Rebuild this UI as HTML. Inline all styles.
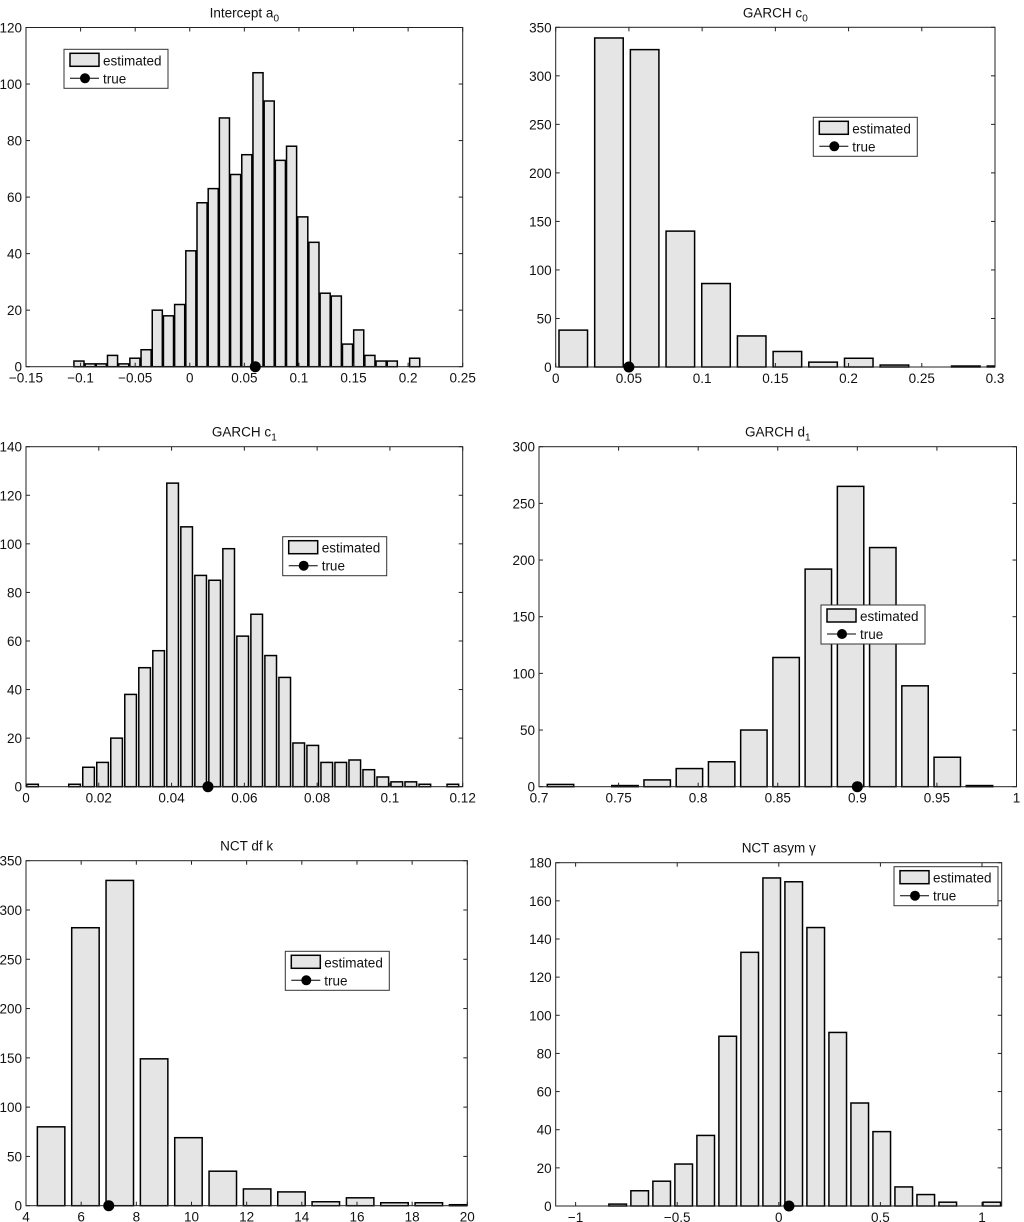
<!DOCTYPE html>
<html><head><meta charset="utf-8">
<style>
html,body{margin:0;padding:0;background:#fff;}
svg{display:block;font-family:"Liberation Sans",Arial,sans-serif;}
</style></head>
<body>
<svg id="fig" width="1024" height="1222" viewBox="0 0 1024 1222" xmlns="http://www.w3.org/2000/svg"></svg>
<script>
// ---- Panel data ----
const a0Counts = [2,1,1,4,1,3,6,20,18,22,41,58,63,88,68,75,104,94,73,78,53,44,26,25,8,13,4,2,2,0,3];
const a0BinStart = -0.1015, a0BinWidth = 0.01025, a0True = 0.06;
const a0XTicks = [-0.15,-0.1,-0.05,0,0.05,0.1,0.15,0.2,0.25];
const a0XLabels = ["\u22120.15","\u22120.1","\u22120.05","0","0.05","0.1","0.15","0.2","0.25"];
const a0YTicks = [0,20,40,60,80,100,120];

const c0Counts = [38,339,327,140,86,32,16,5,9,2,0,1,1];
const c0BinStart = 0.012, c0BinWidth = 0.02437, c0True = 0.05;
const c0XTicks = [0,0.05,0.1,0.15,0.2,0.25,0.3];
const c0XLabels = ["0","0.05","0.1","0.15","0.2","0.25","0.3"];
const c0YTicks = [0,50,100,150,200,250,300,350];

const c1Counts = [1,0,0,1,8,10,20,38,49,56,125,107,87,85,98,62,71,54,45,18,17,10,10,11,7,4,2,2,1,0,1];
const c1BinStart = 0.00179, c1BinWidth = 0.003850, c1True = 0.05;
const c1XTicks = [0,0.02,0.04,0.06,0.08,0.1,0.12];
const c1XLabels = ["0","0.02","0.04","0.06","0.08","0.1","0.12"];
const c1YTicks = [0,20,40,60,80,100,120,140];

const d1Counts = [2,0,1,6,16,22,50,114,192,265,211,89,26,1];
const d1BinStart = 0.7135, d1BinWidth = 0.02025, d1True = 0.9;
const d1XTicks = [0.7,0.75,0.8,0.85,0.9,0.95,1];
const d1XLabels = ["0.7","0.75","0.8","0.85","0.9","0.95","1"];
const d1YTicks = [0,50,100,150,200,250,300];

const kCounts = [80,282,330,149,69,35,17,14,4,8,3,3,1];
const kBinStart = 4.91, kBinWidth = 1.245, kTrue = 7;
const kXTicks = [4,6,8,10,12,14,16,18,20];
const kXLabels = ["4","6","8","10","12","14","16","18","20"];
const kYTicks = [0,50,100,150,200,250,300,350];

const gCounts = [1,8,13,22,37,89,133,172,170,146,91,54,39,10,6,2,0,2];
const gBinStart = -0.793, gBinWidth = 0.1083, gTrue = 0.05;
const gXTicks = [-1,-0.5,0,0.5,1];
const gXLabels = ["\u22121","\u22120.5","0","0.5","1"];
const gYTicks = [0,20,40,60,80,100,120,140,160,180];

const NS = "http://www.w3.org/2000/svg";
const svg = document.getElementById('fig');
function mk(tag, attrs, parent){
  const e = document.createElementNS(NS, tag);
  for (const k in attrs) e.setAttribute(k, attrs[k]);
  (parent||svg).appendChild(e);
  return e;
}

function panel(cfg){
  const g = mk('g', {});
  
  
  const L=cfg.box[0], R=cfg.box[1], T=cfg.box[2], B=cfg.box[3];
  const sx = v => L + (v - cfg.xmin) / (cfg.xmax - cfg.xmin) * (R - L);
  const sy = v => B - v / cfg.ymax * (B - T);
  const cid = 'clip-' + cfg.name;
  const cp = mk('clipPath', {id: cid}, g);
  mk('rect', {x: L, y: T - 1, width: R - L, height: B - T + 2}, cp);
  const bars = mk('g', {'clip-path': 'url(#' + cid + ')'}, g);
  cfg.counts.forEach((c, i) => {
    const cx = cfg.binStart + i * cfg.binWidth;
    const half = cfg.binWidth * cfg.barFrac / 2;
    const x0 = sx(cx - half), x1 = sx(cx + half);
    const r = mk('rect', {x: x0, y: sy(c), width: x1 - x0, height: Math.max(0, B - sy(c)),
      fill: '#e5e5e5', stroke: '#000', 'stroke-width': 1.5}, bars);
    
    
  });
  const box = mk('rect', {x: L, y: T, width: R - L, height: B - T, fill: 'none', stroke: '#222', 'stroke-width': 1}, g);
  
  
  cfg.xTicks.forEach((v, i) => {
    const x = sx(v);
    mk('line', {x1: x, y1: B, x2: x, y2: B - 4, stroke: '#222'}, g);
    mk('line', {x1: x, y1: T, x2: x, y2: T + 4, stroke: '#222'}, g);
    const t = mk('text', {x: x, y: B + 16, 'text-anchor': 'middle', 'font-size': 13.5, fill: '#111'}, g);
    t.textContent = cfg.xLabels[i];
    
    
  });
  cfg.yTicks.forEach(v => {
    const y = sy(v);
    mk('line', {x1: L, y1: y, x2: L + 4, y2: y, stroke: '#222'}, g);
    mk('line', {x1: R, y1: y, x2: R - 4, y2: y, stroke: '#222'}, g);
    const t = mk('text', {x: L - 4, y: y + 5, 'text-anchor': 'end', 'font-size': 13.5, fill: '#111'}, g);
    t.textContent = String(v);
    
    
  });
  const dot = mk('circle', {cx: sx(cfg.trueVal), cy: B, r: 5.5, fill: '#000'}, g);
  
  
  const tt = mk('text', {x: (L + R) / 2, y: T - 10, 'text-anchor': 'middle', 'font-size': 13.5, fill: '#111'}, g);
  
  
  tt.appendChild(document.createTextNode(cfg.title));
  if (cfg.sub) {
    const ts = mk('tspan', {'font-size': 10, dy: 4}, tt);
    ts.textContent = cfg.sub;
  }
  const lx = cfg.legend[0], ly = cfg.legend[1];
  const lg = mk('g', {}, g);
  
  
  mk('rect', {x: lx, y: ly, width: 104, height: 39, fill: '#fff', stroke: '#333', 'stroke-width': 1}, lg);
  mk('rect', {x: lx + 6, y: ly + 4, width: 29, height: 13, fill: '#e5e5e5', stroke: '#000', 'stroke-width': 1.5}, lg);
  const e1 = mk('text', {x: lx + 39, y: ly + 16, 'font-size': 13.5, fill: '#111'}, lg);
  e1.textContent = 'estimated';
  
  
  mk('line', {x1: lx + 6, y1: ly + 29, x2: lx + 35, y2: ly + 29, stroke: '#000', 'stroke-width': 1}, lg);
  mk('circle', {cx: lx + 21, cy: ly + 29, r: 5, fill: '#000'}, lg);
  const e2 = mk('text', {x: lx + 39, y: ly + 34, 'font-size': 13.5, fill: '#111'}, lg);
  e2.textContent = 'true';
  
  
}

panel({name:'panel-intercept-a0', title:'Intercept a', sub:'0', box:[26,462.7,27.5,366.7], xmin:-0.15, xmax:0.25, ymax:120,
  counts:a0Counts, binStart:a0BinStart, binWidth:a0BinWidth, barFrac:0.9, trueVal:a0True,
  xTicks:a0XTicks, xLabels:a0XLabels, yTicks:a0YTicks, legend:[64,49.3]});
panel({name:'panel-garch-c0', title:'GARCH c', sub:'0', box:[555.7,995,27.3,367], xmin:0, xmax:0.3, ymax:350,
  counts:c0Counts, binStart:c0BinStart, binWidth:c0BinWidth, barFrac:0.8, trueVal:c0True,
  xTicks:c0XTicks, xLabels:c0XLabels, yTicks:c0YTicks, legend:[813.3,117.3]});
panel({name:'panel-garch-c1', title:'GARCH c', sub:'1', box:[26,462.7,446.7,786.7], xmin:0, xmax:0.12, ymax:140,
  counts:c1Counts, binStart:c1BinStart, binWidth:c1BinWidth, barFrac:0.83, trueVal:c1True,
  xTicks:c1XTicks, xLabels:c1XLabels, yTicks:c1YTicks, legend:[282.7,536.7]});
panel({name:'panel-garch-d1', title:'GARCH d', sub:'1', box:[539,1016.5,446.7,786.7], xmin:0.7, xmax:1, ymax:300,
  counts:d1Counts, binStart:d1BinStart, binWidth:d1BinWidth, barFrac:0.82, trueVal:d1True,
  xTicks:d1XTicks, xLabels:d1XLabels, yTicks:d1YTicks, legend:[821,605]});
panel({name:'panel-nct-df-k', title:'NCT df k', sub:'', box:[26,467.3,860.7,1205.7], xmin:4, xmax:20, ymax:350,
  counts:kCounts, binStart:kBinStart, binWidth:kBinWidth, barFrac:0.8, trueVal:kTrue,
  xTicks:kXTicks, xLabels:kXLabels, yTicks:kYTicks, legend:[285.3,951.3]});
panel({name:'panel-nct-asym-gamma', title:'NCT asym \u03b3', sub:'', box:[555.7,1001.7,862.7,1206], xmin:-1.098, xmax:1.097, ymax:180,
  counts:gCounts, binStart:gBinStart, binWidth:gBinWidth, barFrac:0.8, trueVal:gTrue,
  xTicks:gXTicks, xLabels:gXLabels, yTicks:gYTicks, legend:[894,866.7]});
</script>
</body></html>
